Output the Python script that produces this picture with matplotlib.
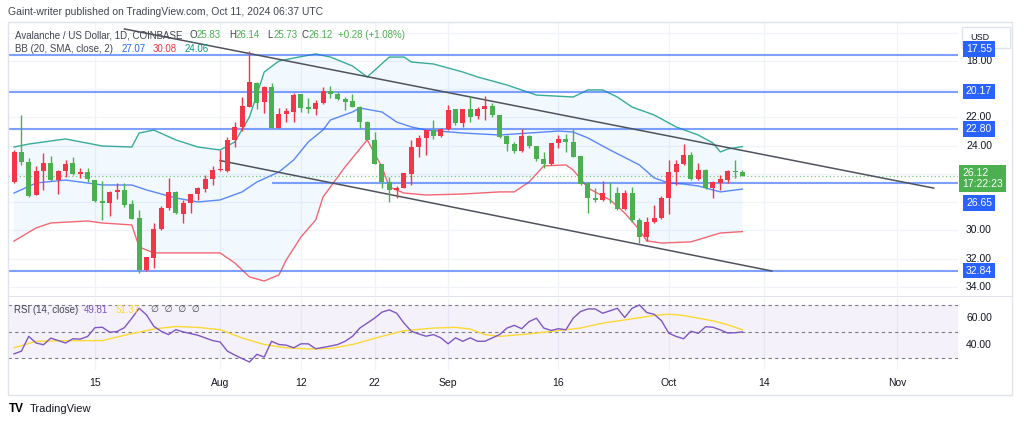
import numpy as np
import matplotlib
matplotlib.use("Agg")
import matplotlib.pyplot as plt
from matplotlib import transforms
from matplotlib.patches import Rectangle

plt.rcParams['font.family'] = ['Liberation Sans', 'DejaVu Sans']

# AVAX/USD daily candles, first candle 2024-07-04 (price scale is inverted)
start = np.datetime64("2024-07-04")
opens = [26.55, 24.42, 25.17, 27.49, 25.79, 25.20, 26.43, 25.77, 25.24, 26.02,
         25.88, 26.43, 27.89, 28.07, 27.30, 27.13, 28.15, 29.13, 32.80, 31.97,
         29.92, 28.39, 27.25, 28.83, 28.07, 27.42, 27.08, 26.38, 25.72, 25.77,
         23.59, 22.69, 21.24, 19.54, 20.88, 19.82, 22.76, 21.75, 21.59, 20.34,
         21.28, 21.42, 20.99, 20.10, 20.34, 20.71, 20.83, 21.24, 22.30, 23.59,
         25.29, 26.55, 27.13, 26.97, 26.02, 24.11, 23.47, 22.89, 23.31, 22.84,
         21.42, 22.37, 21.40, 21.89, 21.40, 21.16, 21.82, 23.29, 23.88, 24.37,
         23.29, 24.02, 24.96, 25.29, 23.83, 23.52, 23.76, 24.73, 26.66, 27.72,
         27.84, 27.32, 27.37, 28.50, 27.37, 29.26, 30.48, 29.38, 29.13, 27.68,
         25.84, 25.31, 24.66, 26.38, 25.72, 27.01, 26.62, 26.43, 25.79, 25.83]
highs = [26.62, 25.36, 27.61, 27.52, 27.13, 26.48, 27.42, 26.19, 26.07, 26.28,
         26.55, 27.95, 29.26, 28.97, 27.79, 28.32, 29.21, 33.00, 32.85, 32.68,
         29.97, 28.55, 28.83, 29.49, 28.78, 27.84, 27.25, 26.78, 25.77, 25.84,
         24.07, 22.93, 21.26, 21.42, 21.66, 22.78, 22.78, 22.30, 22.30, 21.59,
         21.66, 21.82, 21.04, 20.64, 20.76, 21.47, 21.26, 22.76, 23.62, 25.31,
         26.97, 27.96, 27.72, 27.01, 26.78, 24.78, 24.66, 23.54, 23.36, 22.86,
         22.53, 22.69, 22.30, 22.13, 22.18, 21.94, 23.47, 24.37, 24.53, 24.42,
         24.18, 25.06, 25.60, 25.36, 24.18, 24.46, 24.80, 26.75, 28.78, 27.96,
         27.89, 28.07, 28.55, 28.55, 29.38, 30.91, 30.74, 29.45, 29.21, 28.85,
         26.78, 25.36, 26.43, 26.43, 27.06, 27.72, 27.13, 26.66, 26.30, 26.14]
lows = [24.30, 21.82, 24.87, 25.43, 24.51, 24.73, 25.72, 25.01, 24.80, 25.57,
        25.57, 26.40, 26.48, 27.22, 26.62, 26.66, 27.84, 28.55, 31.88, 29.45,
        28.27, 26.30, 27.22, 27.84, 27.40, 26.90, 26.07, 25.43, 24.30, 23.36,
        22.30, 20.57, 17.27, 19.52, 19.80, 19.54, 21.35, 21.35, 20.29, 20.32,
        20.64, 20.76, 19.82, 19.75, 20.17, 20.53, 20.34, 21.22, 22.28, 23.01,
        25.27, 26.19, 26.85, 25.91, 23.59, 23.24, 22.87, 22.18, 22.76, 21.12,
        21.40, 21.38, 20.48, 21.24, 20.48, 20.99, 21.80, 23.27, 23.71, 22.84,
        23.27, 24.00, 24.42, 23.81, 23.24, 23.17, 22.84, 24.71, 26.55, 27.01,
        26.50, 26.55, 26.90, 27.13, 26.90, 29.13, 29.02, 28.20, 27.54, 25.01,
        25.01, 23.88, 24.42, 25.20, 25.67, 26.53, 26.07, 25.72, 25.01, 25.73]
closes = [24.42, 25.17, 27.54, 25.77, 25.20, 26.43, 25.77, 25.29, 26.02, 25.88,
          26.38, 27.91, 28.07, 27.25, 27.13, 28.20, 29.19, 32.80, 31.90, 29.89,
          28.43, 27.25, 28.78, 28.07, 27.42, 26.97, 26.38, 25.72, 25.62, 23.59,
          22.69, 21.19, 19.51, 20.95, 19.82, 22.76, 21.75, 21.54, 20.41, 21.31,
          21.42, 20.95, 20.10, 20.36, 20.71, 20.88, 21.24, 22.30, 23.59, 25.29,
          26.55, 27.13, 26.97, 25.95, 24.07, 23.47, 22.89, 23.31, 22.84, 21.47,
          22.37, 21.40, 21.99, 21.40, 21.16, 21.82, 23.36, 23.88, 24.37, 23.31,
          24.02, 24.96, 25.29, 23.83, 23.52, 23.76, 24.78, 26.73, 27.72, 27.84,
          27.32, 27.37, 28.50, 27.37, 29.26, 30.48, 29.38, 29.13, 27.68, 25.84,
          25.31, 24.66, 26.38, 25.72, 27.01, 26.55, 26.38, 25.77, 25.88, 26.12]

# Bollinger bands (20, SMA, 2), day offsets from start
basis_idx = [0, 3, 7, 9, 12, 16, 18, 22, 25, 28, 31, 33, 36, 38, 40, 42, 43, 46, 47, 50,
             52, 54, 56, 61, 66, 70, 74, 76, 78, 81, 85, 87, 89, 91, 93, 96, 99]
basis_val = [27.35, 26.64, 26.43, 26.57, 26.78, 26.78, 27.13, 27.70, 27.98, 27.84,
             27.27, 26.57, 25.86, 25.01, 23.73, 22.88, 22.18, 21.61, 21.33, 21.61,
             22.32, 22.67, 22.89, 23.10, 23.24, 23.10, 22.96, 23.03, 23.45, 24.30,
             25.36, 26.28, 26.64, 26.71, 26.85, 27.27, 27.07]
upper_idx = [0, 3, 5, 10, 12, 16, 17, 19, 28, 30, 32, 34, 36, 37, 39, 41, 42, 45, 48, 50,
             51, 53, 56, 61, 66, 68, 70, 72, 75, 76, 78, 81, 83, 85, 86, 88, 92, 96, 99]
upper_val = [30.75, 29.82, 29.47, 29.33, 29.47, 29.61, 31.17, 31.59, 31.59, 32.30,
             33.29, 33.58, 33.15, 32.09, 30.46, 29.26, 27.63, 25.50, 23.59, 25.50,
             26.92, 27.35, 27.49, 27.42, 27.27, 27.27, 26.57, 25.43, 25.36, 25.72,
             26.99, 27.84, 28.76, 29.96, 30.74, 30.89, 30.81, 30.18, 30.08]
lower_idx = [0, 2, 7, 12, 16, 17, 19, 22, 25, 28, 30, 32, 34, 36, 38, 41, 43, 46, 48, 51,
             53, 54, 57, 61, 63, 67, 71, 76, 78, 80, 82, 84, 87, 90, 93, 95, 96, 97, 99]
lower_val = [24.09, 23.88, 23.52, 24.02, 24.09, 23.10, 22.89, 23.59, 24.09, 24.30,
             23.73, 21.96, 18.78, 18.00, 17.79, 17.50, 17.72, 18.35, 19.13, 17.72,
             17.72, 18.07, 18.21, 18.78, 19.13, 19.70, 20.41, 20.55, 20.05, 20.05,
             20.55, 21.26, 21.82, 22.67, 23.24, 23.81, 24.44, 24.23, 24.06]

# RSI (14) and its moving average
rsi_idx = [0, 1, 2, 3, 4, 5, 7, 8, 9, 10, 11, 12, 13, 14, 15, 16, 17, 18, 19, 20,
           21, 22, 23, 25, 27, 28, 29, 30, 31, 32, 33, 34, 35, 36, 37, 38, 39, 40, 41, 43,
           44, 45, 46, 47, 49, 50, 51, 52, 53, 54, 55, 56, 57, 58, 59, 60, 61, 62, 63, 64,
           66, 67, 68, 69, 70, 71, 72, 73, 74, 75, 76, 77, 78, 79, 80, 81, 82, 83, 84, 85,
           86, 87, 88, 89, 90, 91, 92, 93, 94, 95, 96, 97, 98, 99]
rsi_val = [33.4, 35.4, 46.5, 41.5, 40.2, 45.2, 41.5, 44.7, 44.4, 46.4, 53.0, 53.3, 49.6, 50.1, 53.0, 60.0, 67.5, 62.6, 54.0, 50.3,
           47.8, 51.5, 49.8, 47.3, 43.3, 42.3, 35.4, 32.5, 29.8, 27.3, 33.0, 31.0, 42.8, 40.4, 39.9, 37.9, 40.9, 40.9, 37.2, 39.2,
           40.4, 42.8, 46.5, 52.7, 60.1, 64.6, 66.3, 63.8, 56.4, 50.3, 48.3, 46.6, 47.8, 45.4, 40.9, 45.4, 42.8, 45.4, 42.8, 42.8,
           47.8, 52.7, 54.7, 52.2, 57.5, 60.1, 52.7, 50.9, 52.2, 51.4, 60.1, 65.1, 67.0, 67.0, 63.8, 65.6, 67.5, 60.6, 67.5, 70.0,
           64.3, 63.0, 58.2, 48.8, 46.4, 44.7, 50.3, 48.8, 53.7, 53.3, 51.3, 49.0, 49.2, 49.81]
ma_idx = [0, 3, 7, 12, 15, 19, 22, 25, 28, 31, 34, 37, 40, 43, 46, 50, 53, 57, 60, 62,
          64, 66, 70, 73, 77, 80, 84, 87, 89, 91, 95, 97, 99]
ma_val = [37.9, 42.8, 43.3, 43.3, 47.3, 52.0, 53.9, 53.2, 51.5, 45.3, 40.4, 37.9, 37.1, 37.4, 40.4, 46.5, 50.7, 52.7, 53.2, 52.0,
          47.8, 46.5, 48.3, 50.2, 52.7, 56.4, 59.6, 62.1, 63.1, 62.1, 58.1, 55.2, 51.37]

# drawings
levels = [17.55, 20.17, 22.80, 32.84]
level_late = 26.65
level_late_from = 35
last_price = 26.12
upper_trend = ([15, 125], [15.73, 27.00])
lower_trend = ([28, 103], [25.05, 32.87])

tick_dates = ["2024-07-15", "2024-08-01", "2024-08-12", "2024-08-22", "2024-09-01",
              "2024-09-16", "2024-10-01", "2024-10-14", "2024-11-01"]
tick_labels = ["15", "Aug", "12", "22", "Sep", "16", "Oct", "14", "Nov"]
price_ticks = [18, 22, 24, 30, 32, 34]

GREEN = '#4caf50'
RED = '#f23645'
BLUE = '#2962ff'
TEXT = '#131722'
GRID = '#f0f3fa'

W, H = 1024, 424
fig = plt.figure(figsize=(W / 100, H / 100), dpi=100)


def rect(l, t, r, b):
    return [l / W, 1 - b / H, (r - l) / W, (b - t) / H]


def ftext(px, py, s, **kw):
    kw.setdefault('va', 'center')
    kw.setdefault('fontsize', 7)
    return fig.text(px / W, 1 - py / H, s, **kw)


ax = fig.add_axes(rect(8, 23, 958, 296))
axr = fig.add_axes(rect(8, 298, 958, 370), sharex=ax)

x = np.arange(len(opens))
o = np.array(opens)
c = np.array(closes)
tick_pos = [(np.datetime64(d) - start).astype(int) for d in tick_dates]

# grid
for tp in tick_pos:
    ax.axvline(tp, color=GRID, lw=0.9, zorder=0)
    axr.axvline(tp, color=GRID, lw=0.9, zorder=0)
for gp in range(16, 36, 2):
    ax.axhline(gp, color=GRID, lw=0.9, zorder=0)

# bollinger bands
ax.fill(np.concatenate([upper_idx, lower_idx[::-1]]),
        np.concatenate([upper_val, lower_val[::-1]]),
        color='#2196f3', alpha=0.06, lw=0, zorder=1)
ax.plot(basis_idx, basis_val, color=BLUE, lw=1, alpha=0.75, zorder=2)
ax.plot(upper_idx, upper_val, color=RED, lw=1, alpha=0.75, zorder=2)
ax.plot(lower_idx, lower_val, color='#089981', lw=1, alpha=0.8, zorder=2)

# levels and trend lines
for lv in levels:
    ax.axhline(lv, color=BLUE, lw=1.5, alpha=0.6, zorder=2)
ax.hlines(level_late, level_late_from, 130, color=BLUE, lw=1.5, alpha=0.6, zorder=2)
ax.axhline(last_price, color=GREEN, lw=0.9, ls=(0, (1, 2)), alpha=0.7, zorder=2)
ax.plot(*upper_trend, color='#50535e', lw=1.1, zorder=3)
ax.plot(*lower_trend, color='#50535e', lw=1.1, zorder=3)

# candles
cols = np.where(c >= o, GREEN, RED)
ax.vlines(x, lows, highs, color=cols, lw=1, zorder=4)
ax.bar(x, np.maximum(np.abs(c - o), 0.06), bottom=np.minimum(o, c), width=0.68,
       color=cols, lw=0, zorder=5)

ax.set_xlim(-0.82, 128.3)
ax.set_ylim(34.64, 15.31)
for a in (ax, axr):
    for s in a.spines.values():
        s.set_visible(False)
    a.set_yticks([])
    a.tick_params(length=0)
ax.tick_params(labelbottom=False)

# RSI pane
axr.axhspan(30, 70, color='#7e57c2', alpha=0.08, lw=0, zorder=0)
for lv in (70, 50, 30):
    axr.axhline(lv, color='#787b86', lw=0.8, ls=(0, (3, 3)), zorder=1)
axr.plot(ma_idx, ma_val, color='#fdd835', lw=1, zorder=2)
axr.plot(rsi_idx, rsi_val, color='#7e57c2', lw=1, zorder=3)
axr.set_ylim(21.3, 75.2)
axr.set_xticks(tick_pos)
axr.set_xticklabels(tick_labels, fontsize=7.5, color=TEXT)
axr.tick_params(axis='x', pad=6)

# price scale labels (pixel rows where the scale stacks them)
tb = transforms.blended_transform_factory(fig.transFigure, ax.transData)
label_rows = {17.55: 49, 20.17: 91.5, 22.80: 129, 32.84: 270.5, 26.65: 203}
for lv, py in label_rows.items():
    fig.text(979 / W, 1 - py / H, f"{lv:.2f}", ha='center', va='center',
             fontsize=7.5, color='white', zorder=6,
             bbox=dict(boxstyle='square,pad=0.25', fc=BLUE, ec='none'))
for pt in price_ticks:
    ax.text(979 / W, pt, f"{pt:.2f}", transform=tb, ha='center', va='center',
            fontsize=7.5, color=TEXT, zorder=7, clip_on=False)
ftext(962, 168, f"{last_price:.2f}\n17:22:23", ha='left', va='top', color='white', fontsize=7.5,
      linespacing=1.15, zorder=6, bbox=dict(boxstyle='square,pad=0.3', fc=GREEN, ec='none'))
tr = transforms.blended_transform_factory(fig.transFigure, axr.transData)
for lv in (60, 40):
    axr.text(979 / W, lv, f"{lv:.2f}", transform=tr, ha='center', va='center',
             fontsize=7.5, color=TEXT, clip_on=False)

# frame and USD box
fig.add_artist(Rectangle((8 / W, 1 - 395 / H), 1004 / W, 373 / H, transform=fig.transFigure,
                         fill=False, ec='#e0e3eb', lw=1))
fig.add_artist(Rectangle((8 / W, 1 - 297 / H), 1004 / W, 1 / H, transform=fig.transFigure,
                         fc='#e0e3eb', ec='none'))
fig.add_artist(Rectangle((962 / W, 1 - 48 / H), 48 / W, 21 / H, transform=fig.transFigure,
                         fc='white', ec='#e0e3eb', lw=1))
ftext(970, 38, "USD", fontsize=6.5, color=TEXT)

# header and legends
ftext(8, 12, "Gaint-writer published on TradingView.com, Oct 11, 2024 06:37 UTC", color='#434651', fontsize=7.5)
ftext(15, 35, "Avalanche / US Dollar, 1D, COINBASE", color='#434651')
for px, letter, val in [(190, "O", "25.83"), (229, "H", "26.14"), (267, "L", "25.73"), (302, "C", "26.12")]:
    ftext(px, 35, letter, color='#434651')
    ftext(px + 7, 35, val, color=GREEN)
ftext(338, 35, "+0.28 (+1.08%)", color=GREEN)
ftext(15, 49, "BB (20, SMA, close, 2)", color='#434651')
ftext(122, 49, "27.07", color=BLUE)
ftext(153, 49, "30.08", color=RED)
ftext(185, 49, "24.06", color='#089981')
ftext(14, 310, "RSI (14, close)", color='#434651')
ftext(84, 310, "49.81", color='#7e57c2')
ftext(116, 310, "51.37", color='#fdd835')
ftext(151, 310, "\u2205  \u2205  \u2205  \u2205", color='#434651', family=['DejaVu Sans'], fontsize=6.5)

ftext(9, 409, "TV", fontsize=8.5, fontweight='bold', color='black')
ftext(30, 409, "TradingView", fontsize=8, color='#131722')

fig.savefig("out.png", dpi=100)
